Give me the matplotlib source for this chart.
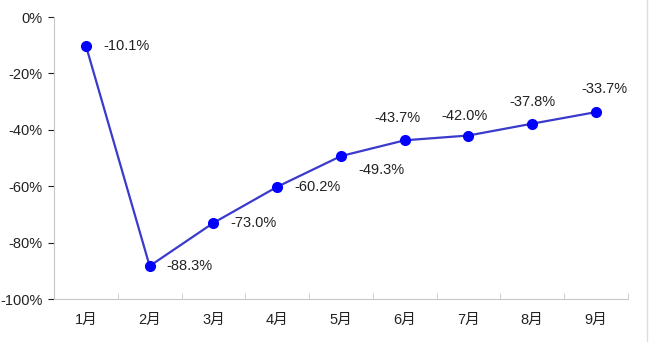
import matplotlib.pyplot as plt
from matplotlib.lines import Line2D

months = ['1月', '2月', '3月', '4月', '5月', '6月', '7月', '8月', '9月']
values = [-10.1, -88.3, -73.0, -60.2, -49.3, -43.7, -42.0, -37.8, -33.7]
yticks = [0, -20, -40, -60, -80, -100]

plt.rcParams['font.family'] = ['Liberation Sans', 'Noto Sans CJK SC']
plt.rcParams['font.size'] = 10.5

fig = plt.figure(figsize=(6.65, 3.42), dpi=100)
ax = fig.add_axes([0.0812, 0.1257, 0.863, 0.8243])

x = list(range(len(months)))
ax.plot(x, values, color='#3a3acc', lw=1.6, marker='o', ms=7,
        mfc='#0000ff', mec='#0000ff', zorder=3)

# label offsets in pixels (dx, dy, ha)
offs = [(17, 0, 'left'), (17, 0, 'left'), (17, 0, 'left'), (17, 0, 'left'),
        (17, -14, 'left'), (-7, 22, 'center'), (-4, 20, 'center'),
        (0, 22, 'center'), (8, 23, 'center')]
for i, v in enumerate(values):
    dx, dy, ha = offs[i]
    ax.annotate(f'{v:.1f}%', (i, v), xytext=(dx, dy), textcoords='offset pixels',
                ha=ha, va='center', color='#222222', fontsize=10.5)

ax.set_xlim(-0.5, len(months) - 0.5)
ax.set_ylim(-100, 0)
ax.set_yticks(yticks)
ax.set_yticklabels([f'{t}%' for t in yticks])
ax.set_xticks(x)
ax.set_xticklabels(months)
ax.set_xticks([i - 0.5 for i in range(len(months) + 1)], minor=True)
ax.tick_params(axis='x', which='major', length=0, pad=10)
ax.tick_params(axis='x', which='minor', length=4, color='#c8c8c8', direction='in')
ax.tick_params(axis='y', length=4, color='#c8c8c8', pad=4)
ax.tick_params(colors='#222222', which='major')

for s in ['top', 'right']:
    ax.spines[s].set_visible(False)
for s in ['left', 'bottom']:
    ax.spines[s].set_color('#c8c8c8')

fig.add_artist(Line2D([0.973, 0.973], [0, 1], color='#dddddd', lw=1))

fig.savefig('out.png', dpi=100)
